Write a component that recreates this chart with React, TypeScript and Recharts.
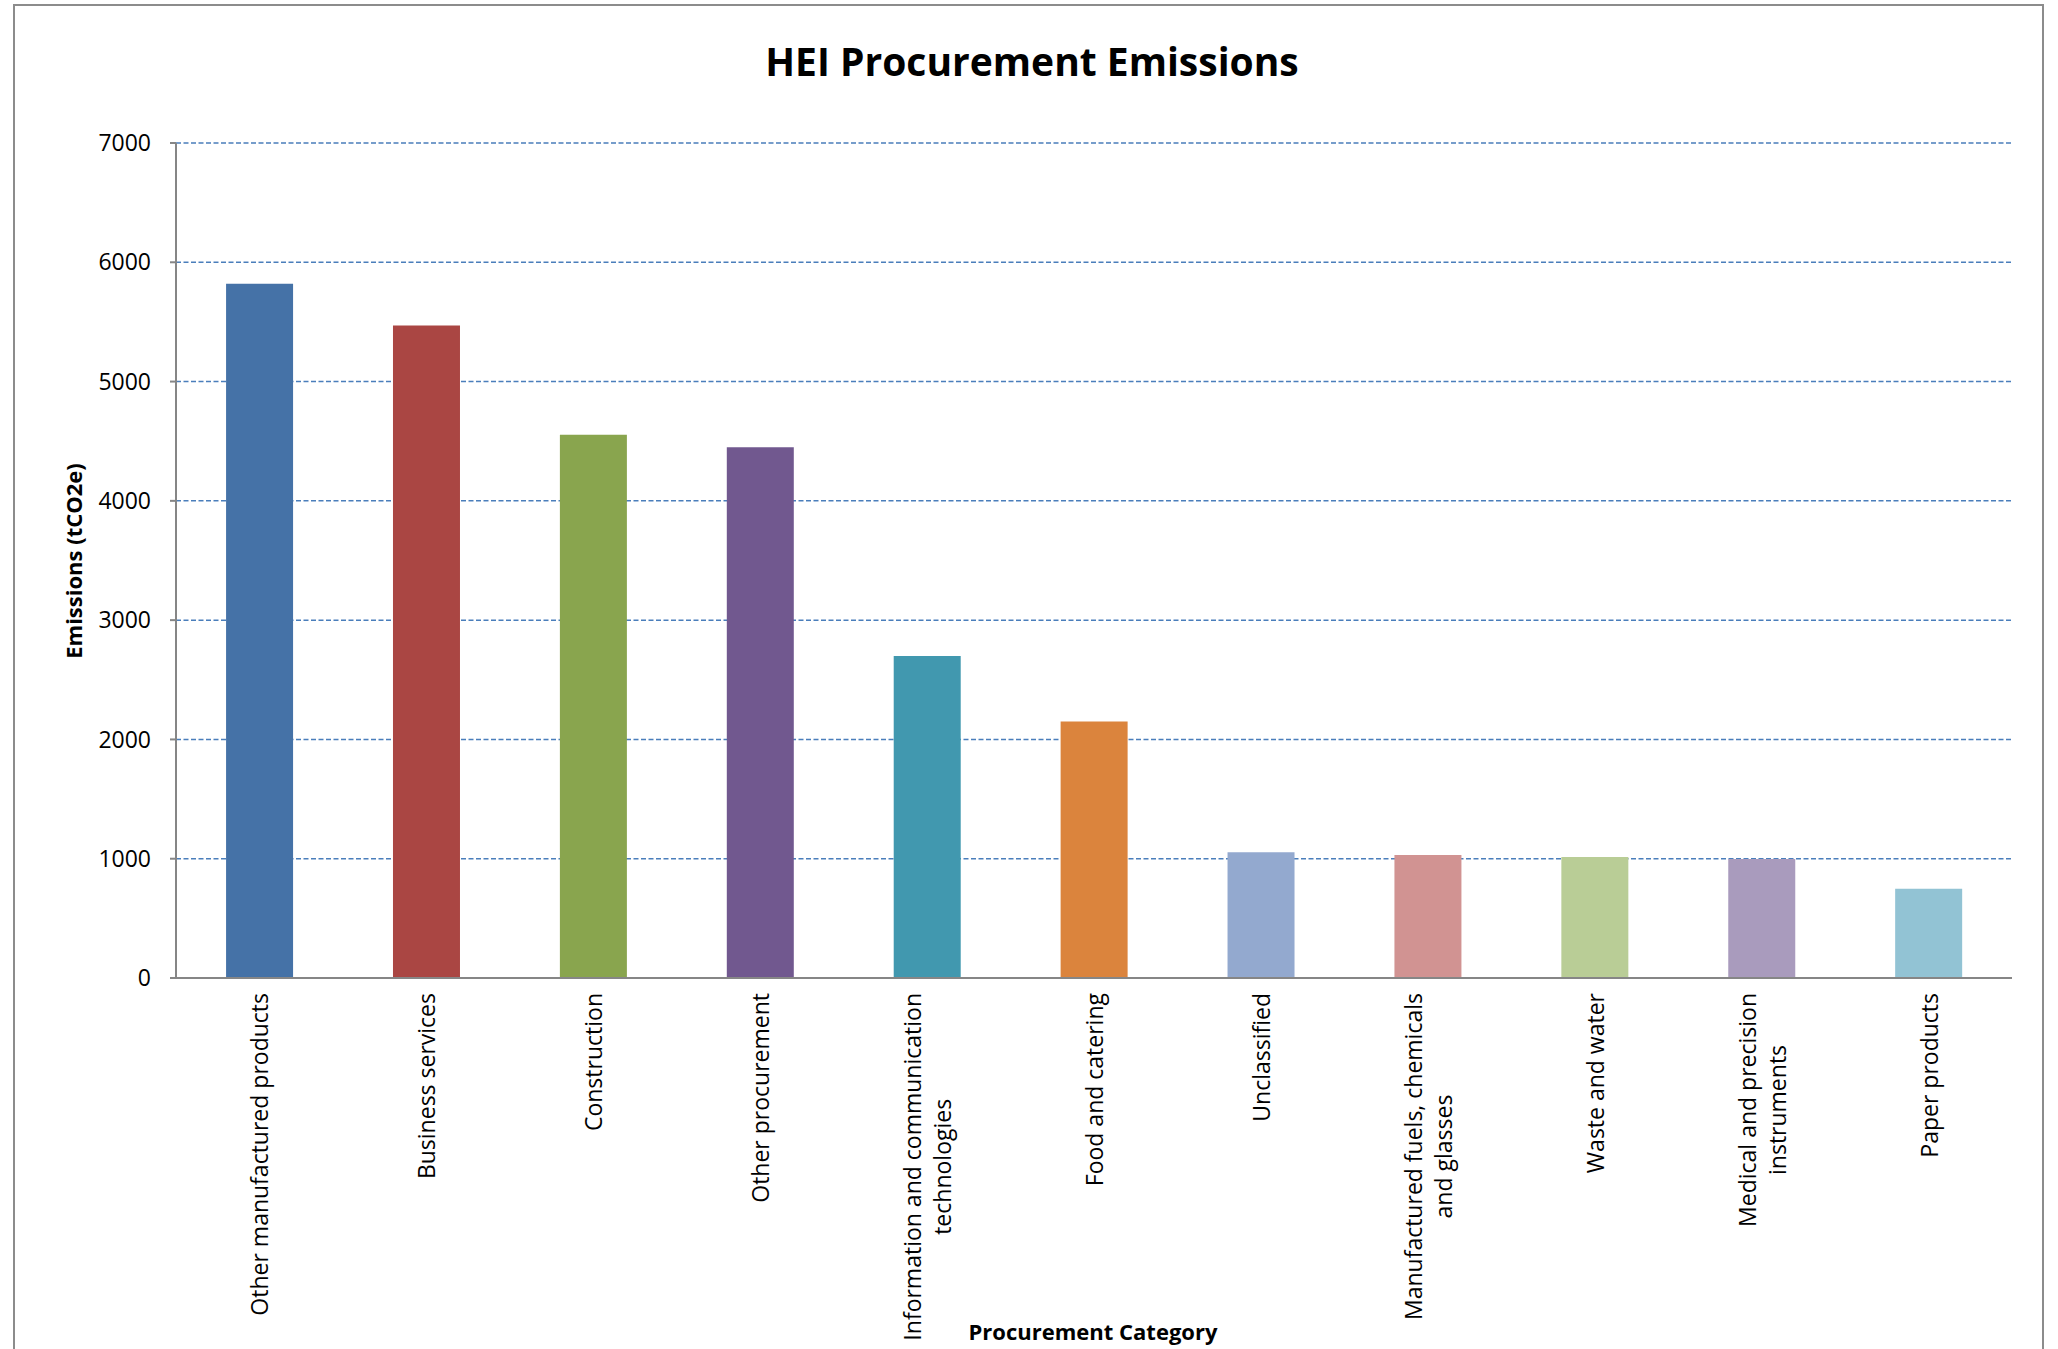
import React from 'react';
import { BarChart, Bar, XAxis, YAxis, CartesianGrid, Cell } from 'recharts';

// procurement categories (line breaks as in the original axis labels)
const categories = [
  'Other manufactured products',
  'Business services',
  'Construction',
  'Other procurement',
  'Information and communication\ntechnologies',
  'Food and catering',
  'Unclassified',
  'Manufactured fuels, chemicals\nand glasses',
  'Waste and water',
  'Medical and precision\ninstruments',
  'Paper products',
];

// tCO2e
const emissions = [5820, 5470, 4555, 4450, 2700, 2150, 1055, 1032, 1015, 997, 748];

const barColors = [
  '#4572A7', '#AA4643', '#89A54E', '#71588F', '#4198AF', '#DB843D',
  '#93A9CF', '#D19392', '#B9CD96', '#A99BBD', '#92C3D4',
];

const yTicks = [0, 1000, 2000, 3000, 4000, 5000, 6000, 7000];

const data = categories.map((name, i) => ({ name, value: emissions[i] }));

const FONT = '"Open Sans", "Noto Sans", sans-serif';
const LABEL_SIZE = 23;
const LINE_H = 30;

let ctx: CanvasRenderingContext2D | null = null;
const textWidth = (s: string) => {
  if (!ctx) ctx = document.createElement('canvas').getContext('2d');
  if (!ctx) return s.length * LABEL_SIZE * 0.5;
  ctx.font = `${LABEL_SIZE}px "Open Sans"`;
  return ctx.measureText(s).width;
};

const CategoryTick = (props: any) => {
  const { x, y, payload } = props;
  const lines: string[] = String(payload.value).split('\n');
  const maxW = Math.max(...lines.map(textWidth));
  const cy = y + 7 + maxW / 2;
  return (
    <g>
      {lines.map((line, i) => {
        const lx = x + (i - (lines.length - 1) / 2) * LINE_H;
        return (
          <text
            key={i}
            x={lx}
            y={cy}
            transform={`rotate(-90, ${lx}, ${cy})`}
            textAnchor="middle"
            dominantBaseline="central"
            fontFamily={FONT}
            fontSize={LABEL_SIZE}
            fill="#000"
          >
            {line}
          </text>
        );
      })}
    </g>
  );
};

export default function App() {
  return (
    <div style={{ position: 'fixed', inset: 0, overflow: 'hidden', background: '#fff' }}>
      <div
        style={{
          position: 'absolute',
          left: 13,
          top: 4,
          width: 2031,
          height: 1400,
          border: '2px solid #8c8c8c',
          boxSizing: 'border-box',
        }}
      />
      <div style={{ position: 'absolute', left: 0, top: 0 }}>
        <BarChart
          width={2058}
          height={1349}
          data={data}
          margin={{ top: 143, right: 46, bottom: 0, left: 16 }}
          barCategoryGap="30%"
        >
          <CartesianGrid
            vertical={false}
            stroke="#4A7EBB"
            strokeWidth={1.5}
            strokeDasharray="5 2.5"
          />
          <XAxis
            dataKey="name"
            interval={0}
            height={371}
            tickLine={false}
            axisLine={{ stroke: '#868686', strokeWidth: 2 }}
            tick={<CategoryTick />}
          />
          <YAxis
            width={160}
            domain={[0, 7000]}
            ticks={yTicks}
            interval={0}
            tickSize={6}
            tickMargin={19}
            tickLine={{ stroke: '#868686', strokeWidth: 2 }}
            axisLine={{ stroke: '#868686', strokeWidth: 2 }}
            tick={{ fill: '#000', fontSize: 23, fontFamily: FONT }}
          />
          <Bar dataKey="value" isAnimationActive={false}>
            {data.map((d, i) => (
              <Cell key={d.name} fill={barColors[i]} />
            ))}
          </Bar>
        </BarChart>
      </div>
      <svg
        width={2058}
        height={1349}
        style={{ position: 'absolute', left: 0, top: 0, pointerEvents: 'none' }}
      >
        <text x={1032} y={76} textAnchor="middle" fontFamily={FONT} fontWeight={700} fontSize={39} fill="#000">
          HEI Procurement Emissions
        </text>
        <text
          x={82}
          y={561}
          transform="rotate(-90, 82, 561)"
          textAnchor="middle"
          fontFamily={FONT}
          fontWeight={700}
          fontSize={22}
          fill="#000"
        >
          Emissions (tCO2e)
        </text>
        <text x={1093} y={1340} textAnchor="middle" fontFamily={FONT} fontWeight={700} fontSize={22} fill="#000">
          Procurement Category
        </text>
      </svg>
    </div>
  );
}
